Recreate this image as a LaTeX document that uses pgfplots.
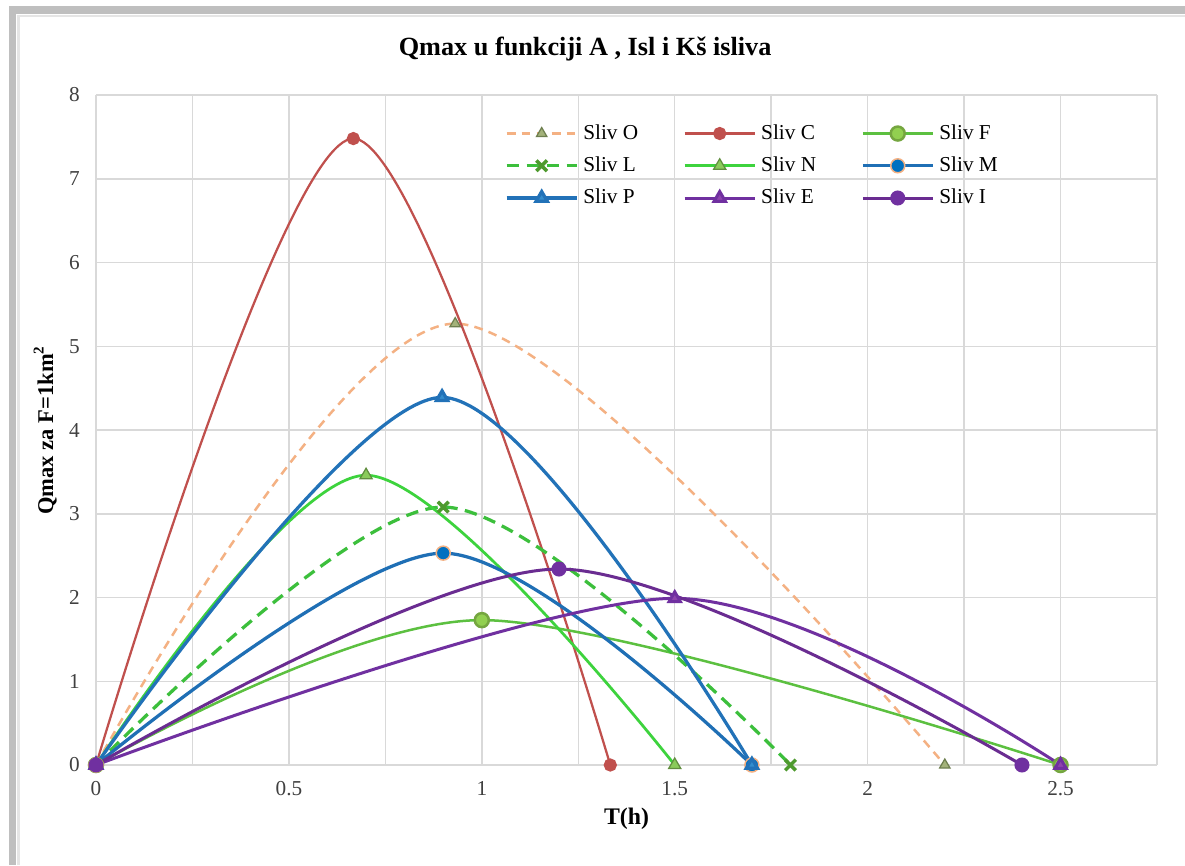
\documentclass[border=0pt]{standalone}
\usepackage{pgfplots}
\pgfplotsset{compat=1.18}
\usepackage{fontspec}
\setmainfont{Liberation Serif}
\definecolor{cO}{HTML}{F4B183}
\definecolor{cOm}{HTML}{A3B27A}
\definecolor{cOd}{HTML}{6E7F4F}
\definecolor{cC}{HTML}{C0504D}
\definecolor{cF}{HTML}{5CC040}
\definecolor{cFm}{HTML}{92D050}
\definecolor{cL}{HTML}{3CBF3C}
\definecolor{cLm}{HTML}{4E9A2E}
\definecolor{cN}{HTML}{3DD33D}
\definecolor{cNm}{HTML}{8ACB5A}
\definecolor{cM}{HTML}{1F6FB5}
\definecolor{cMm}{HTML}{0070C0}
\definecolor{cP}{HTML}{2272B8}
\definecolor{cE}{HTML}{7030A0}
\definecolor{cEm}{HTML}{8E44AD}
\definecolor{cI}{HTML}{6A2C91}
\definecolor{gridc}{HTML}{D9D9D9}
\definecolor{txt}{HTML}{404040}
\begin{document}
\begin{tikzpicture}
\path[use as bounding box] (-38.4pt,-40pt) rectangle (435.6pt,306pt);
\fill[white] (-38.4pt,-40pt) rectangle (435.6pt,306pt);
\draw[draw=black!25, line width=3pt] (-33.4pt,-40pt) -- (-33.4pt,302pt) -- (435.6pt,302pt);
\draw[draw=black!10, line width=1pt] (-31pt,-40pt) -- (-31pt,299.5pt) -- (435.6pt,299.5pt);
\begin{axis}[
  scale only axis, width=424.4pt, height=268pt,
  xmin=0, xmax=2.75, ymin=0, ymax=8,
  xtick={0,0.5,1,1.5,2,2.5},
  minor xtick={0.25,0.75,1.25,1.75,2.25,2.75},
  ytick={0,1,...,8},
  grid=both,
  major grid style={draw=gridc, line width=0.6pt},
  minor grid style={draw=gridc, line width=0.6pt},
  axis line style={draw=gridc, line width=0.6pt},
  axis lines*=left,
  major tick length=0pt, minor tick length=0pt,
  tick label style={font=\fontsize{8.5}{10}\selectfont, text=txt},
  /pgf/number format/assume math mode=true,
  xticklabel style={yshift=-3pt},
  yticklabel style={xshift=-3pt},
  title={\textbf{Qmax u funkciji A , Isl i Kš isliva}},
  title style={at={(axis description cs:0.461,1)}, anchor=south, yshift=4pt, font=\fontsize{10.5}{12}\selectfont},
  xlabel={\textbf{T(h)}},
  xlabel style={font=\fontsize{9.5}{11}\selectfont, yshift=2pt},
  ylabel={\textbf{Qmax za F=1km\textsuperscript{2}}},
  ylabel style={font=\fontsize{9}{11}\selectfont, yshift=-2pt},
  mark size=2.4pt,
  legend columns=3,
  legend cell align=left,
  legend style={draw=none, fill=none, at={(axis description cs:0.378,0.972)}, anchor=north west,
    font=\fontsize{8.5}{10}\selectfont, row sep=1.5pt,
    /tikz/every even column/.append style={column sep=16pt}},
  legend image code/.code={\draw[mark repeat=2,mark phase=2,#1] plot coordinates {(0pt,0pt) (14pt,0pt) (28pt,0pt)};},
]
\addplot[smooth, cO, line width=1pt, dash pattern=on 3.5pt off 2.5pt, mark=triangle*, mark options={solid, fill=cOm, draw=cOd, line width=0.5pt}] coordinates {(0,0) (0.931,5.27) (2.2,0)};
\addlegendentry{Sliv O}
\addplot[smooth, cC, line width=0.9pt, mark=*, mark size=2.2pt, mark options={fill=cC, draw=cC}] coordinates {(0,0) (0.667,7.48) (1.333,0)};
\addlegendentry{Sliv C}
\addplot[smooth, cF, line width=1pt, mark=*, mark size=2.8pt, mark options={fill=cFm, draw=cFm!80!black}] coordinates {(0,0) (1.0,1.73) (2.5,0)};
\addlegendentry{Sliv F}
\addplot[smooth, cL, line width=1.3pt, dash pattern=on 5pt off 3pt, mark=x, mark size=3pt, mark options={solid, draw=cLm, line width=1.4pt}] coordinates {(0,0) (0.9,3.08) (1.8,0)};
\addlegendentry{Sliv L}
\addplot[smooth, cN, line width=1.1pt, mark=triangle*, mark size=2.8pt, mark options={fill=cNm, draw=cNm!70!black, line width=0.5pt}] coordinates {(0,0) (0.7,3.46) (1.5,0)};
\addlegendentry{Sliv N}
\addplot[smooth, cM, line width=1.3pt, mark=*, mark size=2.8pt, mark options={fill=cMm, draw=cO, line width=0.6pt}] coordinates {(0,0) (0.9,2.53) (1.7,0)};
\addlegendentry{Sliv M}
\addplot[smooth, cP, line width=1.3pt, mark=triangle*, mark size=2.6pt, mark options={fill=cMm!80!white, draw=cP}] coordinates {(0,0) (0.897,4.39) (1.7,0)};
\addlegendentry{Sliv P}
\addplot[smooth, cE, line width=1.2pt, mark=triangle*, mark size=2.6pt, mark options={fill=cEm, draw=cE}] coordinates {(0,0) (1.5,1.99) (2.5,0)};
\addlegendentry{Sliv E}
\addplot[smooth, cI, line width=1.2pt, mark=*, mark options={fill=cE, draw=cE}] coordinates {(0,0) (1.2,2.34) (2.4,0)};
\addlegendentry{Sliv I}
\end{axis}
\end{tikzpicture}
\end{document}
